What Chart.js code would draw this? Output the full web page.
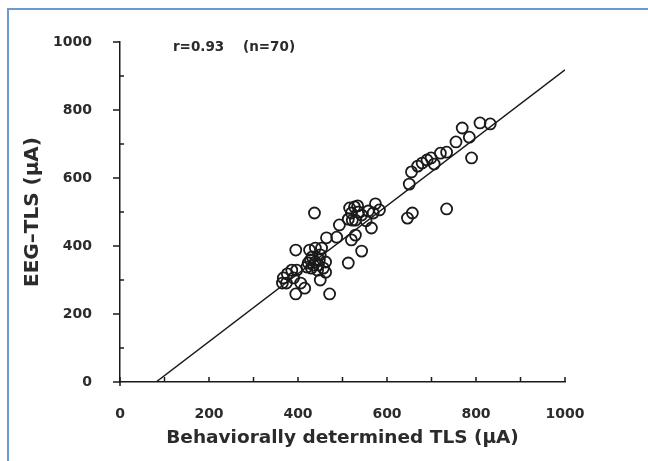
<!DOCTYPE html>
<html><head><meta charset="utf-8">
<script src="https://cdn.jsdelivr.net/npm/chart.js@4/dist/chart.umd.min.js"></script>
<style>html,body{margin:0;padding:0;background:#fff;}#wrap{width:648px;height:461px;position:relative;}</style>
</head><body><div id="wrap"><canvas id="c" width="648" height="461"></canvas></div>
<script>
// Behaviorally determined TLS (x) vs EEG-TLS (y), µA
const behavioralTLS = [809,832,769,785,755,734,720,699,690,679,669,655,650,790,734,657,646,706,
  527,520,536,513,529,543,558,574,583,569,553,565,529,520,543,513,493,487,464,453,522,534,516,
  437,439,432,423,439,448,430,444,457,420,426,450,462,450,471,462,435,446,428,
  395,367,376,386,390,374,406,395,415,397,365];
const eegTLS = [762,759,747,720,706,676,673,659,653,644,635,618,582,659,509,497,482,641,
  515,497,500,479,476,491,503,524,506,497,474,453,432,418,385,350,462,426,424,394,476,518,512,
  497,394,368,350,353,359,335,329,335,338,388,374,323,300,259,353,344,344,359,
  388,306,318,329,306,291,291,259,276,329,291];
const regressionX = [81, 1000];
const regressionY = [0, 918];
const xTickValues = [0,100,200,300,400,500,600,700,800,900,1000];
const yTickValues = [0,100,200,300,400,500,600,700,800,900,1000];
const annotationText = "r=0.93    (n=70)";
const xTitle = "Behaviorally determined TLS (\u03bcA)";
const yTitle = "EEG\u2013TLS (\u03bcA)";

const points = behavioralTLS.map((x,i)=>({x:x,y:eegTLS[i]}));
const line = regressionX.map((x,i)=>({x:x,y:regressionY[i]}));
const INK = '#1a1a1a';
const TXT = '#2b2b2b';

const framePlugin = {
  id:'frame',
  beforeDraw(chart){
    const ctx = chart.ctx;
    ctx.save();
    ctx.fillStyle='#fff';
    ctx.fillRect(0,0,chart.width,chart.height);
    ctx.fillStyle='#6f97d2';
    ctx.fillRect(7,8,chart.width-7,2);
    ctx.fillRect(7,8,2,chart.height-8);
    ctx.restore();
  },
  afterDraw(chart){
    const ctx = chart.ctx, xs = chart.scales.x, ys = chart.scales.y;
    ctx.save();
    ctx.strokeStyle = INK; ctx.lineWidth = 1.5;
    const y0 = ys.getPixelForValue(0), x0 = xs.getPixelForValue(0);
    ctx.beginPath();
    xTickValues.forEach(v=>{ const px = xs.getPixelForValue(v); ctx.moveTo(px,y0); ctx.lineTo(px,y0-5); });
    yTickValues.forEach(v=>{ const py = ys.getPixelForValue(v);
      if (v%200===0){ ctx.moveTo(x0-7,py); ctx.lineTo(x0,py); }
      else { ctx.moveTo(x0,py); ctx.lineTo(x0+4,py); } });
    ctx.moveTo(x0, y0); ctx.lineTo(x0, y0+4);
    ctx.stroke();
    ctx.font = 'bold 13.5px "DejaVu Sans", sans-serif';
    ctx.fillStyle = TXT;
    ctx.textBaseline = 'middle';
    ctx.fillText(annotationText, xs.getPixelForValue(119), ys.getPixelForValue(985));
    ctx.restore();
  }
};

const fontTick = {family:'"DejaVu Sans", sans-serif', size:14, weight:'bold'};

new Chart(document.getElementById('c'), {
  type:'scatter',
  data:{datasets:[
    {type:'line', data:line, borderColor:INK, borderWidth:1.5, pointRadius:0, fill:false, order:2},
    {data:points, pointRadius:5.5, pointHoverRadius:5.5, borderColor:INK, borderWidth:1.8,
     backgroundColor:'rgba(0,0,0,0)', pointStyle:'circle', order:1}
  ]},
  options:{
    responsive:false, animation:false,
    layout:{padding:{left:17, top:42, right:83, bottom:8}},
    plugins:{legend:{display:false}, tooltip:{enabled:false}},
    scales:{
      x:{type:'linear', min:0, max:1000,
        afterFit(s){ s.height = 71; },
        ticks:{stepSize:200, color:TXT, font:fontTick, padding:16, maxRotation:0, callback:(v)=>String(v)},
        grid:{display:false},
        border:{display:true, color:INK, width:1.5},
        title:{display:true, text:xTitle, color:TXT,
          font:{family:'"DejaVu Sans", sans-serif', size:18.5, weight:'bold'}, padding:{top:4,bottom:4}}
      },
      y:{type:'linear', min:0, max:1000,
        afterFit(s){ s.width = 103; },
        ticks:{stepSize:200, color:TXT, font:fontTick, padding:20, callback:(v)=>String(v)},
        grid:{display:false},
        border:{display:true, color:INK, width:1.5},
        title:{display:true, text:yTitle, color:TXT,
          font:{family:'"DejaVu Sans", sans-serif', size:20, weight:'bold'}, padding:{top:4,bottom:4}}
      }
    }
  },
  plugins:[framePlugin]
});
</script></body></html>
